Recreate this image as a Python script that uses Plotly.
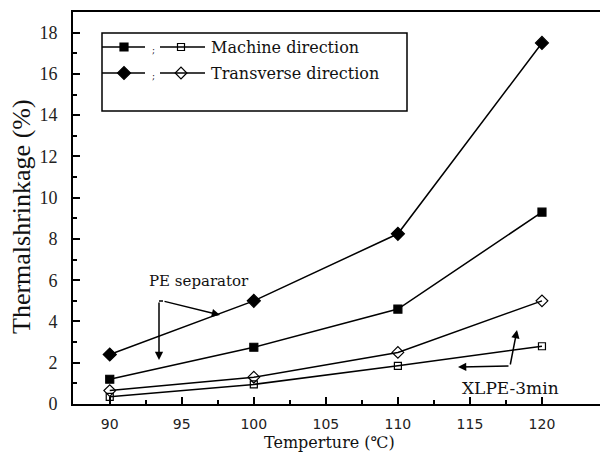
import plotly.graph_objects as go

# Thermal shrinkage of PE and cross-linked (XLPE-3min) separators
temperature = [90, 100, 110, 120]
pe_machine = [1.2, 2.75, 4.6, 9.3]
pe_transverse = [2.4, 5.0, 8.25, 17.5]
xlpe_machine = [0.35, 0.95, 1.85, 2.8]
xlpe_transverse = [0.65, 1.3, 2.5, 5.0]

x_ticks = [90, 95, 100, 105, 110, 115, 120]
y_ticks = [0, 2, 4, 6, 8, 10, 12, 14, 16, 18]

W, H = 600, 466
ML, MR, MT, MB = 73, 0, 12, 62
PW, PH = W - ML - MR, H - MT - MB

SERIF_WIDE = "DejaVu Serif"
TIMES = "Liberation Serif"

x_left = 87.45
x_right = 120 + (600 - 542) / 14.4
y_bottom, y_top = 0, 19

fig = go.Figure()

line = dict(color="black", width=1.5)

series = [
    (pe_machine, "square", 8),
    (pe_transverse, "diamond", 10),
    (xlpe_machine, "square-open", 7),
    (xlpe_transverse, "diamond-open", 9),
]
for ys, sym, sz in series:
    fig.add_trace(go.Scatter(
        x=temperature, y=ys, mode="lines+markers",
        line=line,
        marker=dict(symbol=sym, size=sz, color="black",
                    line=dict(color="black", width=1.2)),
        showlegend=False, hoverinfo="skip",
    ))

# Legend samples drawn on a pixel-space overlay axis
legend_rows = [
    (47, "square", 8, "square-open", 7, "Machine direction"),
    (73, "diamond", 10, "diamond-open", 9, "Transverse direction"),
]
for y, s1, z1, s2, z2, label in legend_rows:
    for xs, sym, sz in (([102, 124, 145], s1, z1), ([160, 181, 205], s2, z2)):
        fig.add_trace(go.Scatter(x=xs, y=[y, y, y], mode="lines", line=line,
                                 xaxis="x2", yaxis="y2", showlegend=False, hoverinfo="skip"))
        fig.add_trace(go.Scatter(x=[xs[1]], y=[y], mode="markers",
                                 marker=dict(symbol=sym, size=sz, color="black",
                                             line=dict(color="black", width=1.2)),
                                 xaxis="x2", yaxis="y2", showlegend=False, hoverinfo="skip"))
    fig.add_annotation(x=153, y=y + 3, xref="x2", yref="y2", text=";",
                       showarrow=False, font=dict(family=SERIF_WIDE, size=9, color="black"))
    fig.add_annotation(x=209, y=y, xref="x2", yref="y2", text=label,
                       xanchor="left", showarrow=False,
                       font=dict(family=SERIF_WIDE, size=16, color="#111"))

shapes = [
    dict(type="rect", xref="x2", yref="y2", x0=102, x1=407, y0=33, y1=111,
         line=dict(color="black", width=1.5)),
    dict(type="line", xref="x2", yref="y2", x0=159, x1=163, y0=301, y1=301,
         line=dict(color="black", width=1.5)),
]

arrows = [
    (159, 301, 159, 360),
    (163, 301, 220, 315),
    (510, 366, 517, 330),
    (510, 366, 458, 367),
]
for x0, y0, x1, y1 in arrows:
    fig.add_annotation(x=x1, y=y1, ax=x0, ay=y0, xref="x2", yref="y2",
                       axref="x2", ayref="y2", text="", showarrow=True,
                       arrowhead=2, arrowsize=1.1, arrowwidth=1.5, arrowcolor="black")

fig.add_annotation(x=199, y=281, xref="x2", yref="y2", text="PE separator",
                   showarrow=False, font=dict(family=SERIF_WIDE, size=15, color="#111"))
fig.add_annotation(x=510, y=388, xref="x2", yref="y2", text="XLPE-3min",
                   showarrow=False, font=dict(family=SERIF_WIDE, size=17, color="#111"))

# Axis titles (paper coordinates so they may sit in the margins)
def px_to_paper(px, py):
    return (px - ML) / PW, (H - MB - py) / PH

ax_, ay_ = px_to_paper(21, 217)
fig.add_annotation(x=ax_, y=ay_, xref="paper", yref="paper", text="Thermalshrinkage (%)",
                   textangle=-90, showarrow=False, xanchor="center", yanchor="middle",
                   font=dict(family=TIMES, size=26, color="#111"))
ax_, ay_ = px_to_paper(329, 442)
fig.add_annotation(x=ax_, y=ay_, xref="paper", yref="paper", text="Temperture (℃)",
                   showarrow=False, xanchor="center", yanchor="middle",
                   font=dict(family=SERIF_WIDE, size=16, color="#111"))

# Axes: inward major and minor ticks drawn by the axes themselves
common = dict(showline=True, linecolor="black", linewidth=2,
              showgrid=False, zeroline=False,
              ticks="inside", ticklen=7, tickwidth=1.5, tickcolor="black")
fig.update_layout(
    width=W, height=H,
    margin=dict(l=ML, r=MR, t=MT, b=MB, pad=0),
    paper_bgcolor="white", plot_bgcolor="rgba(0,0,0,0)",
    shapes=shapes,
    xaxis=dict(
        range=[x_left, x_right], tickvals=x_ticks, ticktext=[str(v) for v in x_ticks],
        mirror=True, ticklabelstandoff=6,
        minor=dict(tickvals=[v + 2.5 for v in x_ticks[:-1]], ticks="inside",
                   ticklen=4, tickwidth=1.5, tickcolor="black"),
        tickfont=dict(family="DejaVu Sans", size=14, color="#222"),
        **common,
    ),
    yaxis=dict(
        range=[y_bottom, y_top], tickvals=y_ticks, ticktext=[str(v) for v in y_ticks],
        ticklabelstandoff=10,
        minor=dict(tickvals=[v + 1 for v in y_ticks], ticks="inside",
                   ticklen=4, tickwidth=1.5, tickcolor="black"),
        tickfont=dict(family=TIMES, size=18, color="#222"),
        **common,
    ),
    xaxis2=dict(range=[ML, W - MR], overlaying="x", visible=False, fixedrange=True),
    yaxis2=dict(range=[H - MB, MT], overlaying="y", visible=False, fixedrange=True),
)

fig.write_html("out.html")
